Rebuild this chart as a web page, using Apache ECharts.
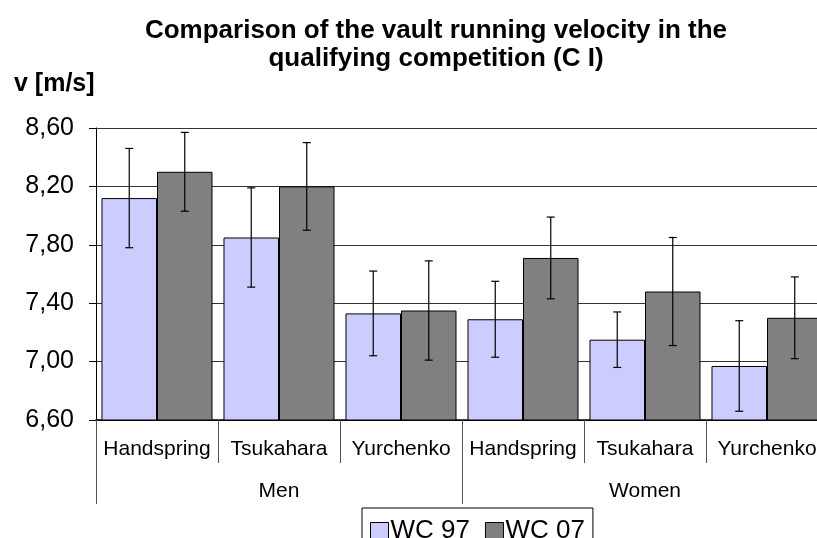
<!DOCTYPE html>
<html>
  <head>
    <meta charset="utf-8">
    <title>Vault running velocity</title>
    <script src="https://cdn.jsdelivr.net/npm/echarts@6/dist/echarts.min.js"></script>
    <style>
      html, body { margin: 0; padding: 0; background: #fff; }
      #chart1 { width: 817px; height: 538px; }
    </style>
  </head>
  <body>
    <div id="chart1"></div>
  </body>
  <script>
    // vault types and competitor groups
    var vaults = ['Handspring', 'Tsukahara', 'Yurchenko', 'Handspring', 'Tsukahara', 'Yurchenko'];
    var groups = ['Men', 'Women'];
    var seriesNames = ['WC 97', 'WC 07'];

    // mean velocity [m/s]
    var wc97 = [8.12, 7.85, 7.33, 7.29, 7.15, 6.97];
    var wc07 = [8.30, 8.20, 7.35, 7.71, 7.48, 7.30];

    // standard deviation (error bars)
    var wc97sd = [0.34, 0.34, 0.29, 0.26, 0.19, 0.31];
    var wc07sd = [0.27, 0.30, 0.34, 0.28, 0.37, 0.28];

    var catGap = 0.09;
    var font = 'Liberation Sans, Arial, sans-serif';

    function errData(mean, sd) {
      return mean.map(function (v, i) { return [i, v - sd[i], v + sd[i]]; });
    }

    function errRender(sign) {
      return function (params, api) {
        var x = api.value(0);
        var lo = api.coord([x, api.value(1)]);
        var hi = api.coord([x, api.value(2)]);
        var catW = api.size([1, 0])[0];
        var barW = catW * (1 - catGap) / 2;
        var cx = lo[0] + sign * barW / 2;
        var style = { stroke: '#000', lineWidth: 1.2 };
        return {
          type: 'group',
          children: [
            { type: 'line', shape: { x1: cx, y1: hi[1], x2: cx, y2: lo[1] }, style: style },
            { type: 'line', shape: { x1: cx - 4, y1: hi[1], x2: cx + 4, y2: hi[1] }, style: style },
            { type: 'line', shape: { x1: cx - 4, y1: lo[1], x2: cx + 4, y2: lo[1] }, style: style }
          ]
        };
      };
    }

    var myChart = echarts.init(document.getElementById('chart1'));
    var option = {
      animation: false,
      backgroundColor: '#fff',
      textStyle: { fontFamily: font, color: '#000' },
      title: [
        {
          text: 'Comparison of the vault running velocity in the\nqualifying competition (C I)',
          left: 431,
          top: 12,
          textAlign: 'center',
          textStyle: { fontSize: 26, fontWeight: 'bold', color: '#000', lineHeight: 28, fontFamily: font }
        },
        {
          text: 'v [m/s]',
          left: 9,
          top: 67,
          textStyle: { fontSize: 25, fontWeight: 'bold', color: '#000', fontFamily: font }
        }
      ],
      legend: {
        data: seriesNames,
        left: 362,
        top: 508,
        padding: [10, 8, 8, 8],
        itemWidth: 18,
        itemHeight: 17,
        itemGap: 15,
        borderColor: '#000',
        borderWidth: 1,
        icon: 'rect',
        itemStyle: { borderColor: '#000', borderWidth: 1 },
        textStyle: { fontSize: 26, color: '#000', padding: [0, 0, 0, -3], fontFamily: font }
      },
      grid: { left: 96, top: 128, width: 732, height: 292, outerBoundsMode: 'none', containLabel: false },
      xAxis: [
        {
          type: 'category',
          data: vaults,
          position: 'bottom',
          axisLine: { lineStyle: { color: '#000', width: 1.5 } },
          axisTick: { show: true, length: 43, lineStyle: { color: '#555' } },
          axisLabel: { interval: 0, fontSize: 21, color: '#000', margin: 19 }
        },
        {
          type: 'category',
          data: groups,
          position: 'bottom',
          axisLine: { show: false },
          axisTick: { show: true, length: 84, lineStyle: { color: '#555' } },
          axisLabel: { interval: 0, fontSize: 21, color: '#000', margin: 61 }
        }
      ],
      yAxis: {
        type: 'value',
        min: 6.6,
        max: 8.6,
        interval: 0.4,
        axisLine: { show: true, lineStyle: { color: '#000' } },
        axisTick: { show: true, length: 7, lineStyle: { color: '#000' } },
        splitLine: { lineStyle: { color: '#333' } },
        axisLabel: {
          fontSize: 25,
          color: '#000',
          margin: 22,
          formatter: function (v) { return v.toFixed(2).replace('.', ','); }
        }
      },
      series: [
        {
          name: seriesNames[0],
          type: 'bar',
          data: wc97,
          barGap: '0%',
          barCategoryGap: (catGap * 100) + '%',
          itemStyle: { color: '#CCCCFF', borderColor: '#000', borderWidth: 1 }
        },
        {
          name: seriesNames[1],
          type: 'bar',
          data: wc07,
          itemStyle: { color: '#808080', borderColor: '#000', borderWidth: 1 }
        },
        {
          name: 'err97',
          type: 'custom',
          renderItem: errRender(-1),
          data: errData(wc97, wc97sd),
          encode: { x: 0, y: [1, 2] },
          z: 10
        },
        {
          name: 'err07',
          type: 'custom',
          renderItem: errRender(1),
          data: errData(wc07, wc07sd),
          encode: { x: 0, y: [1, 2] },
          z: 10
        }
      ]
    };
    myChart.setOption(option);
  </script>
</html>
